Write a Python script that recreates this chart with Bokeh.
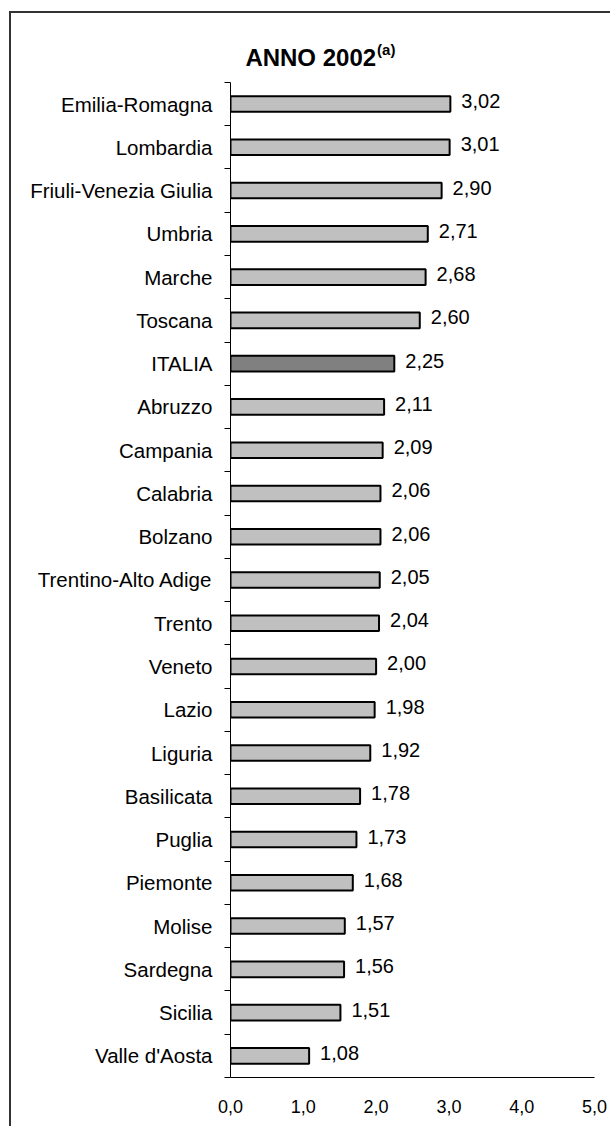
from bokeh.plotting import figure
from bokeh.models import Range1d, LinearAxis, FixedTicker, ColumnDataSource
from bokeh.core.properties import value
from bokeh.embed import file_html
from bokeh.resources import INLINE

# ---- data (top to bottom, as in the reference) ----
regions = ["Emilia-Romagna", "Lombardia", "Friuli-Venezia Giulia", "Umbria", "Marche",
           "Toscana", "ITALIA", "Abruzzo", "Campania", "Calabria", "Bolzano",
           "Trentino-Alto Adige", "Trento", "Veneto", "Lazio", "Liguria", "Basilicata",
           "Puglia", "Piemonte", "Molise", "Sardegna", "Sicilia", "Valle d'Aosta"]
values = [3.02, 3.01, 2.90, 2.71, 2.68, 2.60, 2.25, 2.11, 2.09, 2.06, 2.06,
          2.05, 2.04, 2.00, 1.98, 1.92, 1.78, 1.73, 1.68, 1.57, 1.56, 1.51, 1.08]
x_ticks = [0, 1, 2, 3, 4, 5]
x_tick_labels = ["0,0", "1,0", "2,0", "3,0", "4,0", "5,0"]
title_main = "ANNO 2002"
title_sup = "(a)"
highlight = "ITALIA"

FONT = "Liberation Sans"
n = len(regions)
idx = list(range(n))
colors = ["#808080" if r == highlight else "#c0c0c0" for r in regions]
labels = [f"{v:.2f}".replace(".", ",") for v in values]

src = ColumnDataSource(dict(y=idx, v=values, c=colors, t=labels))

TOP_PAD = 1.2  # extra room above the first category for the title (layout only)
p = figure(width=601, height=1115, output_backend="svg", toolbar_location=None,
           x_range=Range1d(0, 5), y_range=Range1d(n - 0.5, -0.5 - TOP_PAD),
           x_axis_location=None, y_axis_location=None, title=None,
           min_border_left=219, min_border_right=18, min_border_top=17,
           min_border_bottom=51)
p.xgrid.visible = False
p.ygrid.visible = False
p.outline_line_color = None
p.background_fill_color = "white"
p.border_fill_color = "white"
p.styles = {"border-left": "2px solid #333333", "border-top": "2px solid #333333",
            "margin-left": "9px", "margin-top": "11px"}

# y axis: labels at category centres, ticks at category boundaries
yax = LinearAxis(ticker=FixedTicker(ticks=idx, minor_ticks=[i - 0.5 for i in range(n + 1)]))
yax.bounds = (-0.5, n - 0.5)
yax.major_label_overrides = {i: r for i, r in enumerate(regions)}
yax.major_tick_out = 0
yax.major_tick_in = 0
yax.minor_tick_out = 6
yax.minor_tick_in = 0
yax.minor_tick_line_color = "black"
yax.axis_line_color = "black"
yax.major_label_standoff = 12
yax.major_label_text_font = FONT
yax.major_label_text_font_size = "20.5px"
yax.major_label_text_color = "black"
p.add_layout(yax, "left")

xax = LinearAxis(ticker=FixedTicker(ticks=x_ticks, minor_ticks=[]))
xax.major_label_overrides = dict(zip(x_ticks, x_tick_labels))
xax.major_tick_out = 0
xax.major_tick_in = 0
xax.minor_tick_out = 0
xax.axis_line_color = "black"
xax.major_label_standoff = 22
xax.major_label_text_font = FONT
xax.major_label_text_font_size = "18px"
xax.major_label_text_color = "black"
p.add_layout(xax, "below")

p.hbar(y="y", left=0, right="v", height=0.36, fill_color="c", line_color="black",
       line_width=2, source=src)

p.text(x="v", y="y", text="t", source=src, x_offset=11, y_offset=-3,
       text_align="left", text_baseline="middle", text_font=value(FONT),
       text_font_size="20px", text_color="black")

# title "ANNO 2002" with superscript "(a)", anchored just above the top category
p.text(x=[2.0], y=[-0.5], text=[title_main], y_offset=-25,
       text_align="right", text_baseline="alphabetic", text_font=value(FONT),
       text_font_size="24px", text_font_style="bold", text_color="black")
p.text(x=[2.0], y=[-0.5], text=[title_sup], x_offset=1, y_offset=-33,
       text_align="left", text_baseline="alphabetic", text_font=value(FONT),
       text_font_size="15px", text_font_style="bold", text_color="black")

open("out.html", "w").write(file_html(p, INLINE))
